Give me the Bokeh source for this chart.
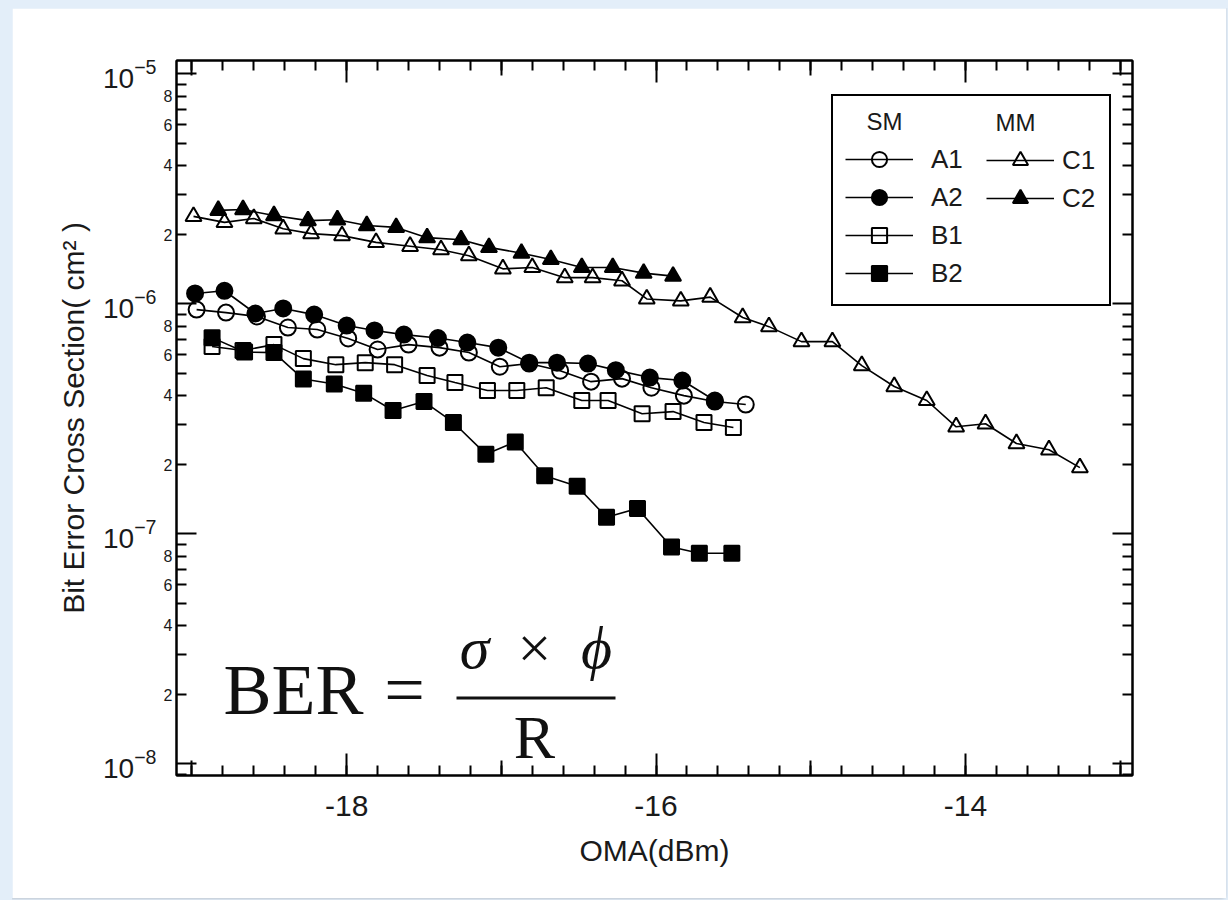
from bokeh.plotting import figure
from bokeh.models import (Range1d, LogAxis, LinearAxis, FixedTicker, CustomJSTickFormatter,
                          LogTickFormatter, Legend, LegendItem, Label, BoxAnnotation,
                          GlobalInlineStyleSheet)
from bokeh.embed import file_html
from bokeh.resources import INLINE

# ---------------- data ----------------
a1_x = [-18.97, -18.78, -18.58, -18.38, -18.19, -17.99, -17.80, -17.60, -17.40, -17.21,
        -17.01, -16.82, -16.62, -16.42, -16.22, -16.03, -15.82, -15.62, -15.42]
a1_y = [9.44e-7, 9.16e-7, 8.81e-7, 7.89e-7, 7.73e-7, 7.07e-7, 6.33e-7, 6.65e-7, 6.45e-7, 6.14e-7,
        5.33e-7, 5.50e-7, 5.12e-7, 4.59e-7, 4.73e-7, 4.32e-7, 3.99e-7, 3.76e-7, 3.65e-7]

a2_x = [-18.98, -18.79, -18.59, -18.41, -18.21, -18.00, -17.82, -17.63, -17.41, -17.22,
        -17.02, -16.82, -16.64, -16.44, -16.26, -16.04, -15.83, -15.62]
a2_y = [1.11e-6, 1.14e-6, 9.08e-7, 9.55e-7, 8.98e-7, 8.05e-7, 7.66e-7, 7.35e-7, 7.10e-7, 6.79e-7,
        6.45e-7, 5.55e-7, 5.55e-7, 5.50e-7, 5.15e-7, 4.78e-7, 4.64e-7, 3.80e-7]

b1_x = [-18.87, -18.67, -18.47, -18.28, -18.07, -17.88, -17.69, -17.48, -17.30, -17.09,
        -16.90, -16.71, -16.48, -16.31, -16.09, -15.89, -15.69, -15.50]
b1_y = [6.52e-7, 6.27e-7, 6.65e-7, 5.78e-7, 5.44e-7, 5.55e-7, 5.44e-7, 4.88e-7, 4.55e-7, 4.20e-7,
        4.20e-7, 4.32e-7, 3.80e-7, 3.80e-7, 3.33e-7, 3.40e-7, 3.05e-7, 2.90e-7]

b2_x = [-18.87, -18.66, -18.47, -18.28, -18.08, -17.89, -17.70, -17.50, -17.31, -17.10,
        -16.91, -16.72, -16.51, -16.32, -16.12, -15.90, -15.72, -15.51]
b2_y = [7.13e-7, 6.17e-7, 6.14e-7, 4.71e-7, 4.48e-7, 4.09e-7, 3.44e-7, 3.76e-7, 3.05e-7, 2.22e-7,
        2.51e-7, 1.79e-7, 1.61e-7, 1.18e-7, 1.29e-7, 8.77e-8, 8.24e-8, 8.24e-8]

c1_x = [-18.99, -18.79, -18.60, -18.41, -18.23, -18.03, -17.81, -17.59, -17.39, -17.21,
        -16.99, -16.80, -16.59, -16.41, -16.22, -16.06, -15.84, -15.65, -15.44, -15.27,
        -15.06, -14.86, -14.67, -14.46, -14.25, -14.06, -13.87, -13.67, -13.46, -13.26]
c1_y = [2.40e-6, 2.26e-6, 2.35e-6, 2.12e-6, 2.02e-6, 1.98e-6, 1.85e-6, 1.78e-6, 1.72e-6, 1.62e-6,
        1.42e-6, 1.44e-6, 1.30e-6, 1.30e-6, 1.26e-6, 1.05e-6, 1.03e-6, 1.07e-6, 8.72e-7, 7.96e-7,
        6.85e-7, 6.85e-7, 5.39e-7, 4.37e-7, 3.80e-7, 2.92e-7, 3.01e-7, 2.47e-7, 2.32e-7, 1.94e-7]

c2_x = [-18.83, -18.67, -18.47, -18.25, -18.06, -17.87, -17.68, -17.48, -17.26, -17.08,
        -16.87, -16.68, -16.48, -16.28, -16.08, -15.89]
c2_y = [2.55e-6, 2.57e-6, 2.42e-6, 2.30e-6, 2.32e-6, 2.19e-6, 2.15e-6, 1.94e-6, 1.90e-6, 1.76e-6,
        1.66e-6, 1.56e-6, 1.44e-6, 1.44e-6, 1.36e-6, 1.32e-6]

series_names = ["A1", "A2", "B1", "B2", "C1", "C2"]
series_markers = ["circle", "circle", "square", "square", "triangle", "triangle"]
series_sizes = [16, 16, 15, 15, 16, 16]
series_filled = [False, True, False, True, False, True]
series_x = [a1_x, a2_x, b1_x, b2_x, c1_x, c2_x]
series_y = [a1_y, a2_y, b1_y, b2_y, c1_y, c2_y]

# axis ticks
x_labeled_ticks = [-18, -16, -14]
x_mid_ticks = [-19, -17, -15, -13]
x_minor_ticks = [round(-19.0 + 0.2 * i, 1) for i in range(31)]
y_decades = [1e-8, 1e-7, 1e-6, 1e-5]
y_mantissa_ticks = [m * 10.0 ** e for e in range(-9, -5) for m in range(2, 10)]

X0, X1 = -19.1, -12.92
Y0, Y1 = 8.9e-9, 1.143e-5

SANS = "Liberation Sans"
SERIF = "Liberation Serif"
INK = "#1a1a1a"

p = figure(width=1214, height=890, x_axis_location=None, y_axis_location=None,
           y_axis_type="log", x_range=Range1d(X0, X1), y_range=Range1d(Y0, Y1),
           output_backend="svg", toolbar_location=None,
           min_border_left=164, min_border_right=94, min_border_top=52, min_border_bottom=123)
p.grid.visible = False
p.background_fill_color = "white"
p.border_fill_color = "white"
p.outline_line_color = "black"
p.outline_line_width = 2
p.stylesheets = [GlobalInlineStyleSheet(
    css="body { margin: 8px 0 0 12px; background-color: #e3eef9; overflow: hidden; }")]
p.styles = {"box-shadow": "-2px -1px 4px rgba(0,0,0,0.45)",
            "outline": "1px solid #d4d4d4", "outline-offset": "-30px"}

blank = CustomJSTickFormatter(code="return ''")


def style_axis(ax, tick_in, minor_in=0, line=True):
    ax.major_tick_in = tick_in
    ax.major_tick_out = 0
    ax.minor_tick_in = minor_in
    ax.minor_tick_out = 0
    ax.major_tick_line_color = "black"
    ax.major_tick_line_width = 2
    ax.minor_tick_line_color = "black"
    ax.minor_tick_line_width = 2
    if line:
        ax.axis_line_color = "black"
        ax.axis_line_width = 2
    else:
        ax.axis_line_color = None
    ax.major_label_text_font = SANS
    ax.major_label_text_color = INK


# ---- left (inner): mantissa ticks with 2,4,6,8 labels
yl1 = LogAxis(ticker=FixedTicker(ticks=y_mantissa_ticks),
              formatter=CustomJSTickFormatter(code="""
                  const e = Math.floor(Math.log10(tick) + 1e-6);
                  const m = Math.round(tick / Math.pow(10, e));
                  return (m % 2 == 0) ? String(m) : "";"""))
style_axis(yl1, 10)
yl1.major_label_text_font_size = "16px"
yl1.major_label_standoff = 4
p.add_layout(yl1, "left")

# ---- left (outer): decade labels 10^n and the axis title
yl2 = LogAxis(ticker=FixedTicker(ticks=y_decades), formatter=LogTickFormatter(),
              axis_label="Bit Error Cross Section( cm² )")
style_axis(yl2, 0, line=False)
yl2.major_tick_line_color = None
yl2.major_label_text_font_size = "28px"
yl2.major_label_standoff = 4
yl2.axis_label_text_font = SANS
yl2.axis_label_text_font_style = "normal"
yl2.axis_label_text_font_size = "30px"
yl2.axis_label_text_color = INK
yl2.axis_label_standoff = 10
p.add_layout(yl2, "left")

# ---- left: long decade ticks drawn at the frame edge
yl3 = LogAxis(ticker=FixedTicker(ticks=y_decades), formatter=blank, fixed_location=X0)
style_axis(yl3, 20, line=False)
p.add_layout(yl3, "left")

# ---- right
yr = LogAxis(ticker=FixedTicker(ticks=y_decades, minor_ticks=y_mantissa_ticks), formatter=blank)
style_axis(yr, 20, 10)
p.add_layout(yr, "right")

# ---- bottom
xb1 = LinearAxis(ticker=FixedTicker(ticks=x_labeled_ticks, minor_ticks=x_minor_ticks),
                 formatter=CustomJSTickFormatter(code="return String(Math.round(tick));"),
                 axis_label="OMA(dBm)")
style_axis(xb1, 22, 10)
xb1.major_label_text_font_size = "30px"
xb1.major_label_standoff = 20
xb1.axis_label_text_font = SANS
xb1.axis_label_text_font_style = "normal"
xb1.axis_label_text_font_size = "30px"
xb1.axis_label_text_color = INK
xb1.axis_label_standoff = 15
p.add_layout(xb1, "below")

xb2 = LinearAxis(ticker=FixedTicker(ticks=x_mid_ticks), formatter=blank, fixed_location=Y0)
style_axis(xb2, 15, line=False)
p.add_layout(xb2, "below")

# ---- top
xt1 = LinearAxis(ticker=FixedTicker(ticks=x_labeled_ticks, minor_ticks=x_minor_ticks), formatter=blank)
style_axis(xt1, 22, 10)
p.add_layout(xt1, "above")
xt2 = LinearAxis(ticker=FixedTicker(ticks=x_mid_ticks), formatter=blank, fixed_location=Y1)
style_axis(xt2, 15, line=False)
p.add_layout(xt2, "above")

# ---------------- series ----------------
items = {}
for name, mk, sz, filled, xs, ys in zip(series_names, series_markers, series_sizes,
                                        series_filled, series_x, series_y):
    lr = p.line(xs, ys, line_color="black", line_width=1.6)
    sr = p.scatter(xs, ys, marker=mk, size=sz, line_color="black", line_width=2,
                   fill_color="black" if filled else None)
    items[name] = LegendItem(label=name, renderers=[lr, sr])

common = dict(padding=12, spacing=0, glyph_width=68, glyph_height=38, margin=0,
              label_text_font=SANS, label_text_font_size="26px", label_text_color=INK,
              title_text_font=SANS, title_text_font_size="24px", title_text_font_style="normal",
              title_text_color=INK, title_standoff=4)

leg1 = Legend(items=[items[n] for n in ["A1", "A2", "B1", "B2"]], location=(655, 469),
              title="\u2002\u2009\u2009SM", label_standoff=18, label_width=166,
              border_line_color="black", border_line_width=2, border_line_alpha=1.0,
              background_fill_color="white", background_fill_alpha=1.0, **common)
leg2 = Legend(items=[items[n] for n in ["C1", "C2"]], location=(810, 558),
              title="\u2009\u2009MM", label_standoff=8,
              border_line_color=None, background_fill_alpha=0.0, **common)
p.add_layout(leg1)
p.add_layout(leg2)

# ---------------- formula ----------------
fkw = dict(x_units="screen", y_units="screen", text_font=SERIF, text_color="#111111",
           text_baseline="alphabetic")
p.add_layout(Label(x=47, y=86, text="BER", text_font_size="72px", text_align="left", **fkw))
p.add_layout(Label(x=228, y=86, text="=", text_font_size="72px", text_align="center", **fkw))
p.add_layout(Label(x=298, y=128, text="σ", text_font_size="60px", text_font_style="italic",
                   text_align="center", **fkw))
p.add_layout(Label(x=358, y=128, text="×", text_font_size="60px", text_align="center", **fkw))
p.add_layout(Label(x=420, y=128, text="ϕ", text_font_size="60px", text_font_style="italic",
                   text_align="center", **fkw))
p.add_layout(Label(x=358, y=39, text="R", text_font_size="62px", text_align="center", **fkw))
p.add_layout(BoxAnnotation(left=280, right=439, bottom=76, top=79,
                           left_units="screen", right_units="screen",
                           bottom_units="screen", top_units="screen",
                           fill_color="#111111", fill_alpha=1.0, line_color=None))

open("out.html", "w").write(file_html(p, INLINE))
